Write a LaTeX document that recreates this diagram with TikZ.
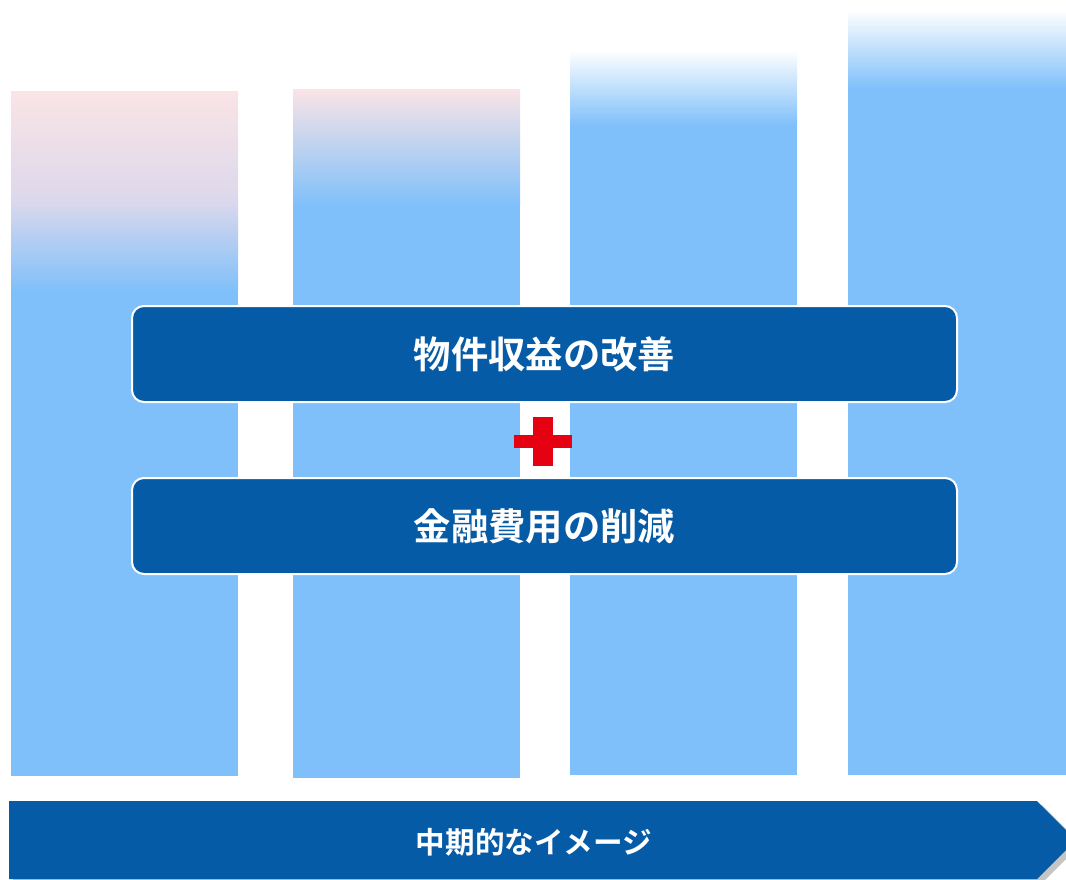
\documentclass[tikz,border=0pt]{standalone}
\usepackage{fontspec}
\newfontfamily\jpbold{Noto Sans CJK JP Bold}
\definecolor{barblue}{HTML}{80C0FA}
\definecolor{barpink}{HTML}{FAE4E6}
\definecolor{barmid}{HTML}{DCD8EC}
\definecolor{navy}{HTML}{065BA6}
\definecolor{plusred}{HTML}{E50012}
\tikzset{
  bar/.style={fill=barblue},
  mainbox/.style={draw=white, line width=1.5pt, fill=navy, rounded corners=9pt,
    minimum width=618.75pt, minimum height=72pt, inner sep=0pt,
    text=white, font=\jpbold\fontsize{28}{31}\selectfont},
}
\begin{document}
\begin{tikzpicture}[x=0.75pt,y=-0.75pt]
\useasboundingbox (0,0) rectangle (1066,879);
\begin{scope}
\clip (0,0) rectangle (1066,879);
% bars
\fill[bar] (11,290) rectangle (238,776);
\shade[top color=barpink, bottom color=barmid] (11,91) rectangle (238,200);
\shade[top color=barmid, bottom color=barblue] (11,200) rectangle (238,290.5);
\fill[bar] (293,205) rectangle (520,778);
\shade[top color=barpink, bottom color=barblue] (293,89) rectangle (520,205);
\fill[bar] (570,125) rectangle (797,775);
\shade[top color=white, bottom color=barblue] (570,50) rectangle (797,125);
\fill[bar] (848,88) rectangle (1066,775);
\shade[top color=white, bottom color=barblue] (848,10) rectangle (1066,88);
% bottom arrow
\fill[black!45, opacity=0.5] (13,805) -- (1042,805) -- (1081,844) -- (1042,883) -- (13,883) -- cycle;
\fill[navy] (9,801) -- (1037,801) -- (1076,840) -- (1037,879) -- (9,879) -- cycle;
\end{scope}
\node[font=\jpbold\fontsize{22.2}{25}\selectfont, text=white] (mid) at (534,842) {中期的なイメージ};
% boxes
\node[mainbox] (rev) at (544.5,354) {物件収益の改善};
\node[mainbox] (fin) at (544.5,526) {金融費用の削減};
% plus
\node[fill=plusred, minimum width=43.5pt, minimum height=9.75pt, inner sep=0pt] (plush) at (543,441) {};
\node[fill=plusred, minimum width=15pt, minimum height=36.75pt, inner sep=0pt] (plusv) at (543,441) {};
\end{tikzpicture}
\end{document}
